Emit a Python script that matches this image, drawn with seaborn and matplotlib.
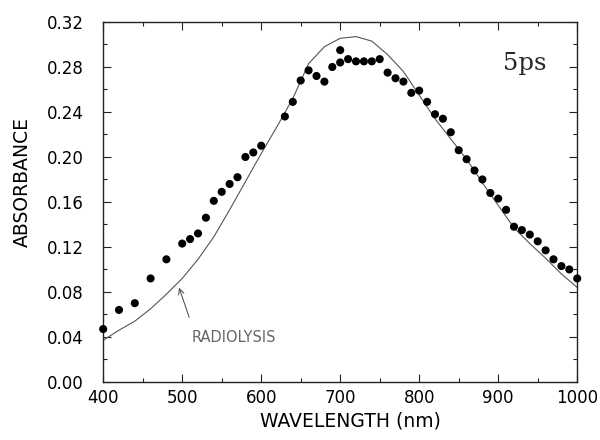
import numpy as np
import pandas as pd
import seaborn as sns
import matplotlib
matplotlib.use("Agg")
import matplotlib.pyplot as plt
from matplotlib.ticker import MultipleLocator

# measured transient absorption at 5 ps (dots)
wavelength = [400, 420, 440, 460, 480, 500, 510, 520, 530, 540, 550, 560, 570, 580,
              590, 600, 630, 640, 650, 660, 670, 680, 690, 700, 700, 710, 720, 730,
              740, 750, 760, 770, 780, 790, 800, 810, 820, 830, 840, 850, 860, 870,
              880, 890, 900, 910, 920, 930, 940, 950, 960, 970, 980, 990, 1000]
absorbance = [0.047, 0.064, 0.070, 0.092, 0.109, 0.123, 0.127, 0.132, 0.146, 0.161,
              0.169, 0.176, 0.182, 0.200, 0.204, 0.210, 0.236, 0.249, 0.268, 0.277,
              0.272, 0.267, 0.280, 0.295, 0.284, 0.287, 0.285, 0.285, 0.285, 0.287,
              0.275, 0.270, 0.267, 0.257, 0.259, 0.249, 0.238, 0.234, 0.222, 0.206,
              0.198, 0.188, 0.180, 0.168, 0.163, 0.153, 0.138, 0.135, 0.131, 0.125,
              0.117, 0.109, 0.103, 0.100, 0.092]

# radiolysis reference spectrum (solid line)
radio_wl = [400, 420, 440, 460, 480, 500, 520, 540, 560, 580, 600, 620, 640, 660,
            680, 700, 720, 740, 760, 780, 800, 820, 840, 860, 880, 900, 920, 940,
            960, 980, 1000]
radio_abs = [0.037, 0.046, 0.054, 0.065, 0.078, 0.092, 0.109, 0.129, 0.153, 0.178,
             0.203, 0.227, 0.252, 0.283, 0.298, 0.3055, 0.307, 0.303, 0.291, 0.276,
             0.255, 0.234, 0.216, 0.198, 0.177, 0.157, 0.137, 0.123, 0.110, 0.096,
             0.084]

pts = pd.DataFrame({"wavelength": wavelength, "absorbance": absorbance})
radio = pd.DataFrame({"wavelength": radio_wl, "absorbance": radio_abs})

sns.set_style("ticks")
plt.rcParams["font.family"] = ["DejaVu Sans"]

fig, ax = plt.subplots(figsize=(6, 4.4), dpi=100)
fig.subplots_adjust(left=0.172, right=0.962, top=0.95, bottom=0.132)

sns.lineplot(data=radio, x="wavelength", y="absorbance", ax=ax,
             color="#555555", linewidth=0.8)
sns.scatterplot(data=pts, x="wavelength", y="absorbance", ax=ax,
                color="black", s=34, edgecolor="none", zorder=3, clip_on=False)

ax.set_xlim(400, 1000)
ax.set_ylim(0, 0.32)
ax.xaxis.set_major_locator(MultipleLocator(100))
ax.xaxis.set_minor_locator(MultipleLocator(50))
ax.yaxis.set_major_locator(MultipleLocator(0.04))
ax.yaxis.set_minor_locator(MultipleLocator(0.02))
ax.set_yticklabels([f"{v:.2f}" for v in ax.get_yticks()])

ax.tick_params(which="both", direction="in", top=True, right=True, width=0.8,
               colors="#222222", labelcolor="black")
ax.tick_params(which="major", length=6)
ax.tick_params(which="minor", length=3)
ax.tick_params(axis="y", labelsize=12, pad=14)
ax.tick_params(axis="x", labelsize=12, pad=5)
for sp in ax.spines.values():
    sp.set_linewidth(1.0)
    sp.set_color("#222222")

ax.set_xlabel("WAVELENGTH (nm)", fontsize=13.5, color="black")
ax.set_ylabel("ABSORBANCE", fontsize=13.5, color="black")
ax.xaxis.set_label_coords(0.521, -0.082)
ax.yaxis.set_label_coords(-0.15, 0.556)

ax.text(0.844, 0.867, "5ps", transform=ax.transAxes, fontsize=17.5,
        family="DejaVu Serif", ha="left", va="baseline")

ax.text(565, 0.0394, "RADIOLYSIS", fontsize=10.5, color="#666666",
        ha="center", va="center")
ax.annotate("", xy=(495, 0.086), xytext=(510, 0.055),
            arrowprops=dict(arrowstyle="->", color="#444444", lw=0.7))

fig.savefig("out.png", dpi=100)
